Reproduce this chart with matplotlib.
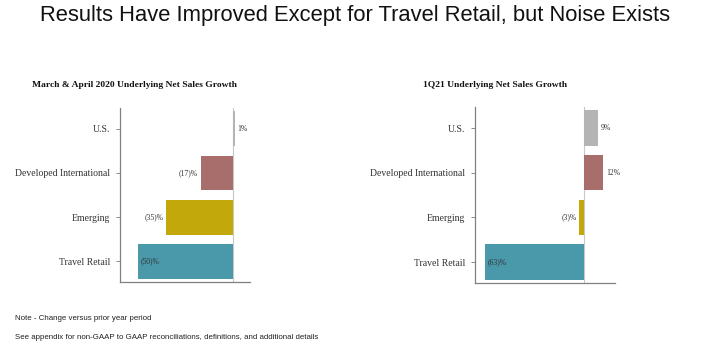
import matplotlib.pyplot as plt
import numpy as np

# data
regions = ["U.S.", "Developed International", "Emerging", "Travel Retail"]
growth_2020 = [1, -17, -35, -50]
growth_1q21 = [9, 12, -3, -63]
bar_colors = ["#b4b4b4", "#a86e6c", "#c2a80a", "#4999ab"]

title = "Results Have Improved Except for Travel Retail, but Noise Exists"
sub_left = "March & April 2020 Underlying Net Sales Growth"
sub_right = "1Q21 Underlying Net Sales Growth"
notes = ["Note - Change versus prior year period",
         "See appendix for non-GAAP to GAAP reconciliations, definitions, and additional details"]

serif = ["Liberation Serif", "DejaVu Serif"]
sans = ["Liberation Sans", "DejaVu Sans"]


def fmt(v):
    return f"{v}%" if v >= 0 else f"({-v})%"


def draw_panel(ax, values, xlim):
    y = np.arange(len(regions))
    ax.barh(y, values, height=0.79, color=bar_colors, zorder=2)
    ax.axvline(0, color="#c8c8c8", lw=0.8, zorder=1)
    ax.set_xlim(*xlim)
    ax.set_ylim(3.47, -0.47)
    ax.set_yticks(y)
    ax.set_yticklabels(regions, family=serif, fontsize=7, color="#333333")
    ax.tick_params(axis="y", length=3, width=0.6, color="#777777", pad=4)
    ax.set_xticks([])
    for s in ["top", "right"]:
        ax.spines[s].set_visible(False)
    for s in ["left", "bottom"]:
        ax.spines[s].set_color("#808080")
        ax.spines[s].set_linewidth(0.9)
    span = xlim[1] - xlim[0]
    pad = span * 0.02
    for yi, v in zip(y, values):
        if v >= 0:
            ax.text(v + pad, yi, fmt(v), ha="left", va="center",
                    family=serif, fontsize=5.5, color="#333333")
        elif v - pad - span * 0.13 < xlim[0]:
            # no room outside, put label inside the bar
            ax.text(v + pad, yi, fmt(v), ha="left", va="center",
                    family=serif, fontsize=5.5, color="#333333")
        else:
            ax.text(v - pad, yi, fmt(v), ha="right", va="center",
                    family=serif, fontsize=5.5, color="#333333")


fig = plt.figure(figsize=(7.1, 3.52), dpi=100)
fig.patch.set_facecolor("white")

ax1 = fig.add_axes([0.169, 0.199, 0.183, 0.494])
ax2 = fig.add_axes([0.669, 0.196, 0.197, 0.500])
draw_panel(ax1, growth_2020, (-59.5, 9))
draw_panel(ax2, growth_1q21, (-69.5, 19.5))

fig.text(0.190, 0.758, sub_left, ha="center", va="center", family=serif,
         fontsize=6.8, fontweight="bold", color="#111111")
fig.text(0.697, 0.758, sub_right, ha="center", va="center", family=serif,
         fontsize=6.8, fontweight="bold", color="#111111")

fig.text(0.5, 0.957, title, ha="center", va="center", family=sans,
         fontsize=15.8, color="#111111")
fig.text(0.021, 0.094, notes[0], ha="left", va="center", family=sans,
         fontsize=5.7, color="#222222")
fig.text(0.021, 0.040, notes[1], ha="left", va="center", family=sans,
         fontsize=5.7, color="#222222")

fig.savefig("out.png", dpi=100)
